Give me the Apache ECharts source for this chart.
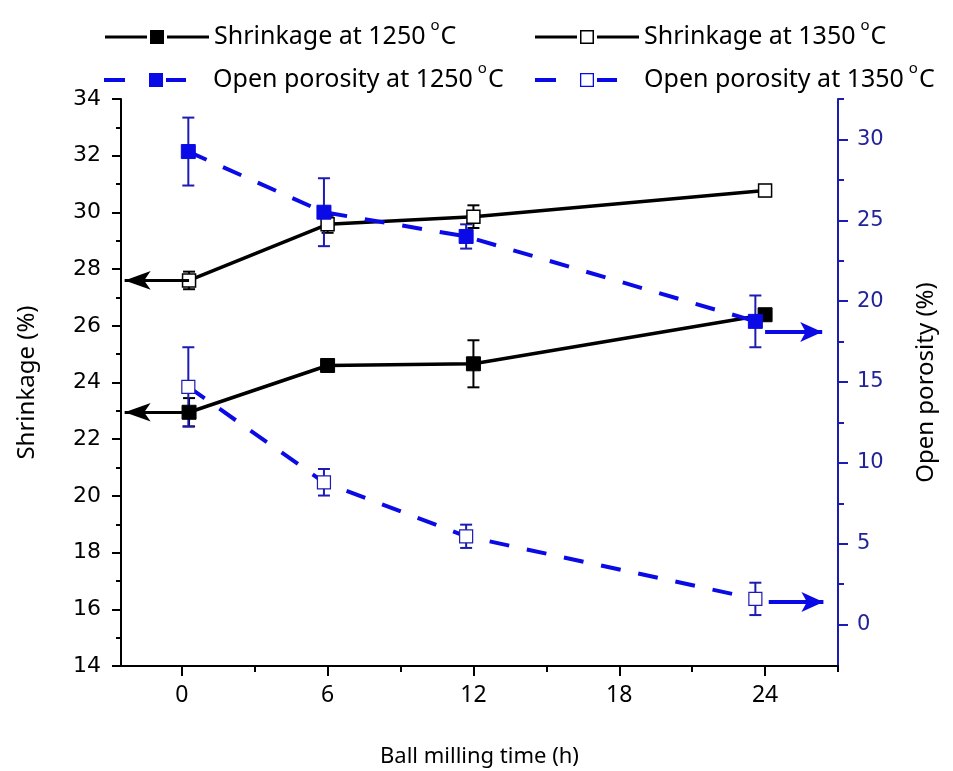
<!DOCTYPE html>
<html>
<head>
<meta charset="utf-8">
<script src="https://cdn.jsdelivr.net/npm/echarts@6/dist/echarts.min.js"></script>
<style>
  html, body { margin: 0; padding: 0; background: #fff; }
  #chart { width: 953px; height: 771px; }
</style>
</head>
<body>
<div id="chart"></div>
<script>
// Ball milling time (h) for each measured point
const shrinkTime = [0.3, 6, 12, 24];
const porosityTime = [0.27, 5.85, 11.7, 23.6];

// Linear shrinkage (%) and its error
const shrink1250 = [22.95, 24.6, 24.66, 26.39];
const shrink1250Err = [0.5, 0.15, 0.83, 0.15];
const shrink1350 = [27.6, 29.58, 29.85, 30.77];
const shrink1350Err = [0.31, 0.3, 0.4, 0.2];

// Open porosity (%) and its error
const porosity1250 = [29.25, 25.5, 24.0, 18.75];
const porosity1250Err = [2.1, 2.1, 0.75, 1.6];
const porosity1350 = [14.7, 8.8, 5.46, 1.59];
const porosity1350Err = [2.45, 0.82, 0.72, 1.0];

// Axis ticks
const timeTicks = [0, 6, 12, 18, 24];
const timeMinorTicks = [3, 9, 15, 21, 27];
const porosityTicks = [0, 5, 10, 15, 20, 25, 30];
const porosityMinorTicks = [2.5, 7.5, 12.5, 17.5, 22.5, 27.5, 32.5];

// Arrow guides pointing each curve to its own axis: [value, from time, to time]
const shrinkArrows = [[27.6, 0.3, -2.35], [22.95, 0.3, -2.35]];
const porosityArrows = [[18.09, 24.0, 26.35], [1.4, 24.15, 26.4]];

const BLACK = '#000000';
const BLUE = '#0a0ae6';
const BLUE_AXIS = '#1c1cb4';
const BLUE_TEXT = '#22229a';
const FONT = 'Noto Sans';
const NUM_FONT = 'DejaVu Sans';

// Legend keys: line + square marker (solid or dashed line, filled or hollow square)
const KEY_PAD = 'M103.9,6.9H104V7H103.9Z';
const KEY_SOLID_FILLED = 'path://M0,5.5H42V8.5H0Z M45,0H59V14H45Z M62,5.5H104V8.5H62Z';
const KEY_SOLID_HOLLOW = 'path://M0,5.5H42V8.5H0Z M45,0H59V14H45Z M46.5,1.5V12.5H57.5V1.5Z M62,5.5H104V8.5H62Z';
const KEY_DASH_FILLED = 'path://M0,5H21V9H0Z M45,0H59V14H45Z M62,5H82V9H62Z ' + KEY_PAD;
const KEY_DASH_HOLLOW = 'path://M0,5H21V9H0Z M45,0H59V14H45Z M46.3,1.3V12.7H57.7V1.3Z M62,5H82V9H62Z ' + KEY_PAD;

const pairs = (xs, ys) => xs.map((x, i) => [x, ys[i]]);
const errRows = (xs, ys, es) => xs.map((x, i) => [x, ys[i] - es[i], ys[i] + es[i]]);

function errorBarSeries(xs, ys, es, color, yAxisIndex) {
  return {
    type: 'custom',
    yAxisIndex: yAxisIndex,
    silent: true,
    z: 3,
    data: errRows(xs, ys, es),
    renderItem: function (params, api) {
      const lo = api.coord([api.value(0), api.value(1)]);
      const hi = api.coord([api.value(0), api.value(2)]);
      const cap = 6;
      const style = { stroke: color, lineWidth: 2 };
      return {
        type: 'group',
        children: [
          { type: 'line', shape: { x1: lo[0], y1: lo[1], x2: hi[0], y2: hi[1] }, style: style },
          { type: 'line', shape: { x1: lo[0] - cap, y1: lo[1], x2: lo[0] + cap, y2: lo[1] }, style: style },
          { type: 'line', shape: { x1: hi[0] - cap, y1: hi[1], x2: hi[0] + cap, y2: hi[1] }, style: style }
        ]
      };
    }
  };
}

function arrowLines(rows, color, width, size) {
  return {
    silent: true,
    symbol: ['none', 'arrow'],
    symbolSize: size,
    label: { show: false },
    lineStyle: { color: color, width: width, type: 'solid' },
    emphasis: { disabled: true },
    animation: false,
    data: rows.map(r => [{ coord: [r[1], r[0]] }, { coord: [r[2], r[0]] }])
  };
}

const legendRich = {
  a: { fontFamily: FONT, fontSize: 25, color: '#000', lineHeight: 38 },
  s: { fontFamily: FONT, fontSize: 15, color: '#000', lineHeight: 15, verticalAlign: 'top', padding: [0, 1, 0, 5] }
};
const legendText = name => '{a|' + name.replace(' °C', '') + '}{s|o}{a|C}';
function legendAt(name, icon, color, left, top) {
  return {
    data: [name],
    icon: icon,
    left: left,
    top: top,
    itemWidth: 104,
    itemHeight: 14,
    itemGap: 0,
    padding: 0,
    selectedMode: false,
    formatter: legendText,
    itemStyle: { color: color, borderWidth: 0 },
    textStyle: { rich: legendRich }
  };
}

const chart = echarts.init(document.getElementById('chart'), null, { renderer: 'canvas' });

chart.setOption({
  animation: false,
  backgroundColor: '#ffffff',
  grid: { left: 121, right: 115, top: 99, bottom: 105, containLabel: false, outerBoundsMode: 'none' },
  legend: [
    legendAt('Shrinkage at 1250 °C', KEY_SOLID_FILLED, BLACK, 105, 18),
    legendAt('Shrinkage at 1350 °C', KEY_SOLID_HOLLOW, BLACK, 535, 18),
    legendAt('Open porosity at 1250 °C', KEY_DASH_FILLED, BLUE, 104, 61),
    legendAt('Open porosity at 1350 °C', KEY_DASH_HOLLOW, BLUE, 535, 61)
  ],
  xAxis: [
    {
      type: 'value', min: -2.5, max: 27, position: 'bottom',
      axisLine: { show: true, onZero: false, lineStyle: { color: BLACK, width: 2 } },
      axisTick: { show: true, customValues: timeTicks, length: 10, lineStyle: { color: BLACK, width: 2 } },
      axisLabel: { customValues: timeTicks, margin: 18, color: BLACK, fontFamily: FONT, fontSize: 23 },
      splitLine: { show: false },
      name: 'Ball milling time (h)', nameLocation: 'middle', nameGap: 80,
      nameTextStyle: { color: BLACK, fontFamily: FONT, fontSize: 22 }
    },
    {
      type: 'value', min: -2.5, max: 27, position: 'bottom', offset: 0,
      axisLine: { show: false, onZero: false },
      axisTick: { show: true, customValues: timeMinorTicks, length: 6, lineStyle: { color: BLACK, width: 2 } },
      axisLabel: { show: false },
      splitLine: { show: false }
    }
  ],
  yAxis: [
    {
      type: 'value', min: 14, max: 34, interval: 2, position: 'left',
      axisLine: { show: true, onZero: false, lineStyle: { color: BLACK, width: 2 } },
      axisTick: { show: true, length: 9, lineStyle: { color: BLACK, width: 2 } },
      minorTick: { show: true, splitNumber: 2, length: 5, lineStyle: { color: BLACK, width: 2 } },
      axisLabel: { margin: 20, color: BLACK, fontFamily: NUM_FONT, fontSize: 22 },
      splitLine: { show: false }, minorSplitLine: { show: false },
      name: 'Shrinkage (%)', nameLocation: 'middle', nameGap: 82, nameRotate: 90,
      nameTextStyle: { color: BLACK, fontFamily: FONT, fontSize: 24 }
    },
    {
      type: 'value', min: -2.56, max: 32.5, position: 'right',
      axisLine: { show: true, onZero: false, lineStyle: { color: BLUE_AXIS, width: 2 } },
      axisTick: { show: true, customValues: porosityTicks, length: 10, lineStyle: { color: BLUE_AXIS, width: 2 } },
      axisLabel: { customValues: porosityTicks, margin: 19, color: BLUE_TEXT, fontFamily: NUM_FONT, fontSize: 21 },
      splitLine: { show: false },
      name: 'Open porosity (%)', nameLocation: 'middle', nameGap: 76, nameRotate: 90,
      nameTextStyle: { color: BLACK, fontFamily: FONT, fontSize: 24 }
    },
    {
      type: 'value', min: -2.56, max: 32.5, position: 'right', offset: 0,
      axisLine: { show: false, onZero: false },
      axisTick: { show: true, customValues: porosityMinorTicks, length: 6, lineStyle: { color: BLUE_AXIS, width: 2 } },
      axisLabel: { show: false },
      splitLine: { show: false }
    }
  ],
  series: [
    errorBarSeries(shrinkTime, shrink1250, shrink1250Err, BLACK, 0),
    errorBarSeries(shrinkTime, shrink1350, shrink1350Err, BLACK, 0),
    {
      name: 'Shrinkage at 1250 °C', type: 'line', yAxisIndex: 0, z: 4,
      data: pairs(shrinkTime, shrink1250),
      symbol: 'rect', symbolSize: 14,
      itemStyle: { color: BLACK, borderColor: BLACK, borderWidth: 1 },
      lineStyle: { color: BLACK, width: 3.5 },
      markLine: arrowLines([shrinkArrows[1]], BLACK, 3, [14, 26])
    },
    {
      name: 'Shrinkage at 1350 °C', type: 'line', yAxisIndex: 0, z: 4,
      data: pairs(shrinkTime, shrink1350),
      symbol: 'rect', symbolSize: 13,
      itemStyle: { color: '#ffffff', borderColor: BLACK, borderWidth: 1.5 },
      lineStyle: { color: BLACK, width: 3.5 },
      markLine: arrowLines([shrinkArrows[0]], BLACK, 3, [14, 26])
    },
    errorBarSeries(porosityTime, porosity1250, porosity1250Err, BLUE_AXIS, 1),
    errorBarSeries(porosityTime, porosity1350, porosity1350Err, BLUE_AXIS, 1),
    {
      name: 'Open porosity at 1250 °C', type: 'line', yAxisIndex: 1, z: 5,
      data: pairs(porosityTime, porosity1250),
      symbol: 'rect', symbolSize: 14,
      itemStyle: { color: BLUE, borderColor: BLUE, borderWidth: 1 },
      lineStyle: { color: BLUE, width: 4, type: [20, 18] },
      markLine: arrowLines([porosityArrows[0]], BLUE, 4, [15, 22])
    },
    {
      name: 'Open porosity at 1350 °C', type: 'line', yAxisIndex: 1, z: 5,
      data: pairs(porosityTime, porosity1350),
      symbol: 'rect', symbolSize: 13,
      itemStyle: { color: '#ffffff', borderColor: BLUE_AXIS, borderWidth: 1.2 },
      lineStyle: { color: BLUE, width: 4, type: [20, 18] },
      markLine: arrowLines([porosityArrows[1]], BLUE, 4, [15, 22])
    }
  ]
});
</script>
</body>
</html>
